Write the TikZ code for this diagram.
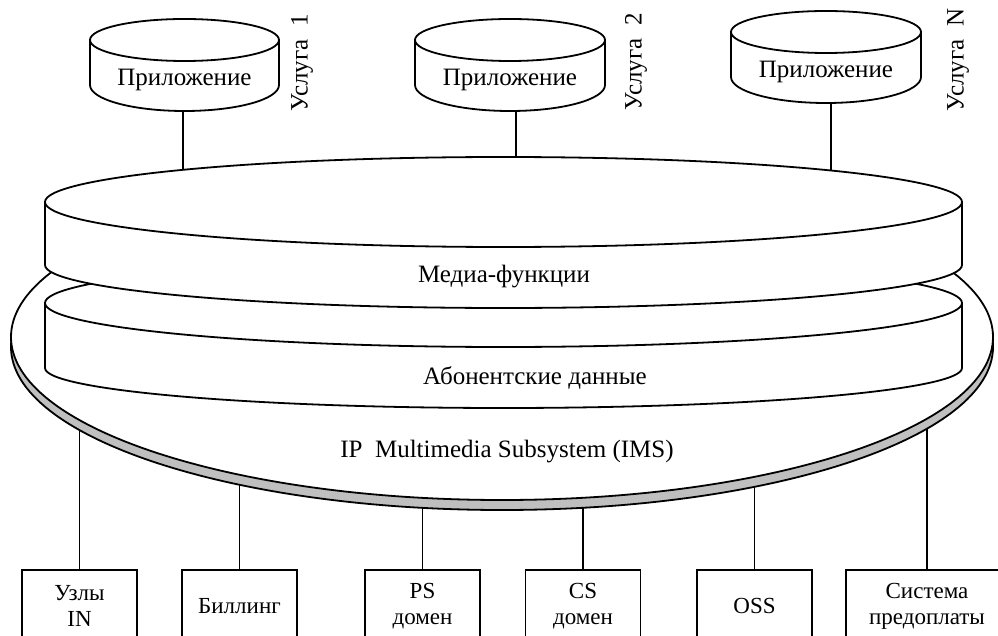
\documentclass[tikz,border=0pt]{standalone}
\usepackage{fontspec}
\setmainfont{Liberation Serif}
\usetikzlibrary{positioning}
\tikzstyle{Cilindro}=[draw, fill=white, line width=1.8pt]
\tikzstyle{Disco}=[draw, fill=white, line width=1.8pt]
\tikzstyle{Sombra}=[draw, fill=gray!50, line width=1.8pt]
\tikzstyle{Caja}=[rectangle, draw, fill=white, line width=1.8pt, minimum width=115pt, minimum height=72pt, anchor=north, align=center, font=\fontsize{23}{26}\selectfont]
\tikzstyle{Etiqueta}=[font=\fontsize{25}{28}\selectfont]
\tikzstyle{Servicio}=[rotate=90, font=\fontsize{25}{28}\selectfont]
\tikzstyle{Linea}=[line width=1.8pt]

\begin{document}
\begin{tikzpicture}[x=1pt, y=-1pt]
			\useasboundingbox (0,0) rectangle (998,636);

			%Puntos de union
			\coordinate (app1_base)		at (183,108);
			\coordinate (app2_base)		at (516,108);
			\coordinate (appN_base)		at (831,100);
			\coordinate (media_base)	at (503,230);
			\coordinate (ims_base)		at (502,400);

			%Cajas
			\node[Caja]		(uzly)		at (79.5,569)	{Узлы\\IN};
			\node[Caja]		(billing)	at (239.5,569)	{Биллинг};
			\node[Caja]		(ps)		at (422.5,569)	{PS\\домен};
			\node[Caja]		(cs)		at (583,569)	{CS\\домен};
			\node[Caja]		(oss)		at (754.5,569)	{OSS};
			\node[Caja, minimum width=162pt]	(predoplata)	at (927,569)	{Система\\предоплаты};

			%Lineas
			\draw[Linea] (app1_base) -- (app1_base |- media_base);
			\draw[Linea] (app2_base) -- (app2_base |- media_base);
			\draw[Linea] (appN_base) -- (appN_base |- media_base);
			\draw[Linea] (uzly.north) -- (uzly.north |- ims_base);
			\draw[Linea] (billing.north) -- (billing.north |- ims_base);
			\draw[Linea] (ps.north) -- (ps.north |- ims_base);
			\draw[Linea] (cs.north) -- (cs.north |- ims_base);
			\draw[Linea] (oss.north) -- (oss.north |- ims_base);
			\draw[Linea] (predoplata.north) -- (predoplata.north |- ims_base);

			%IMS
			\draw[Sombra] (502,347) ellipse [x radius=491, y radius=163];
			\draw[Disco] (502,337) ellipse [x radius=491, y radius=163];

			%Discos
			\draw[Disco] (45,303) -- (45,368) arc[start angle=180, end angle=0, x radius=458.5, y radius=40] -- (962,303) -- cycle;
			\draw[Disco] (503.5,303) ellipse [x radius=458.5, y radius=44];
			\draw[Disco] (45,202) -- (45,265) arc[start angle=180, end angle=0, x radius=458.5, y radius=43] -- (962,202) -- cycle;
			\draw[Disco] (503.5,202) ellipse [x radius=458.5, y radius=45];

			%Cilindros
			\draw[Cilindro] (90,40) -- (90,85) arc[start angle=180, end angle=0, x radius=94.5, y radius=26] -- (279,40) -- cycle;
			\draw[Cilindro] (184.5,40) ellipse [x radius=94.5, y radius=21];
			\draw[Cilindro] (415,40) -- (415,85) arc[start angle=180, end angle=0, x radius=95, y radius=26] -- (605,40) -- cycle;
			\draw[Cilindro] (510,40) ellipse [x radius=95, y radius=21];
			\draw[Cilindro] (731,32) -- (731,77) arc[start angle=180, end angle=0, x radius=95, y radius=26] -- (921,32) -- cycle;
			\draw[Cilindro] (826,32) ellipse [x radius=95, y radius=21];

			%Textos
			\node[Etiqueta]	(app1)		at (184.5,80)	{Приложение};
			\node[Etiqueta]	(app2)		at (510,80)		{Приложение};
			\node[Etiqueta]	(appN)		at (826,72)		{Приложение};
			\node[Servicio]	(usluga1)	at (302,63)		{Услуга\ \ 1};
			\node[Servicio]	(usluga2)	at (636,62)		{Услуга\ \ 2};
			\node[Servicio]	(uslugaN)	at (958,60)		{Услуга\ \ N};
			\node[Etiqueta]	(media)		at (504,277)	{Медиа-функции};
			\node[Etiqueta]	(abonent)	at (535,378)	{Абонентские данные};
			\node[Etiqueta]	(ims)		at (507,452)	{IP\ \ Multimedia Subsystem (IMS)};

\end{tikzpicture}
\end{document}
